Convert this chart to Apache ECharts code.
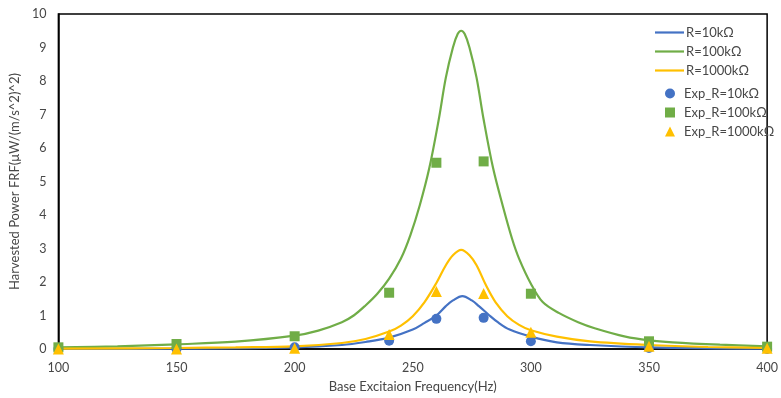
<!DOCTYPE html>
<html>
<head>
<meta charset="utf-8">
<script src="https://cdn.jsdelivr.net/npm/echarts@6/dist/echarts.min.js"></script>
<style>
  html, body { margin: 0; padding: 0; background: #fff; }
  #chart { width: 781px; height: 398px; }
</style>
</head>
<body>
<div id="chart"></div>
<script>
// Theoretical harvested-power FRF curves (frequency in Hz, power in µW/(m/s^2)^2)
const freq10k = [100, 150, 200, 220, 230, 240, 250, 255, 260, 264, 267, 271, 275, 278, 282, 286, 291, 300, 311, 325, 350, 400];
const power10k = [0.0, 0.01, 0.05, 0.12, 0.21, 0.34, 0.58, 0.78, 1.0, 1.28, 1.45, 1.58, 1.45, 1.28, 1.03, 0.8, 0.58, 0.37, 0.2, 0.12, 0.05, 0.01];

const freq100k = [100, 125, 150, 175, 200, 210, 220, 225, 230, 235, 240, 245, 249, 253, 257, 261, 264, 267, 269, 270.5, 272, 274, 277, 280, 284, 288, 292, 295, 300, 305, 312, 320, 327, 340, 350, 360, 380, 400];
const power100k = [0.05, 0.08, 0.14, 0.22, 0.4, 0.55, 0.8, 1.0, 1.3, 1.65, 2.1, 2.7, 3.4, 4.3, 5.4, 6.85, 8.1, 9.0, 9.4, 9.5, 9.4, 9.0, 8.1, 6.85, 5.4, 4.3, 3.3, 2.7, 1.95, 1.4, 1.07, 0.8, 0.62, 0.37, 0.26, 0.2, 0.13, 0.08];

const freq1000k = [100, 150, 175, 200, 220, 230, 240, 245, 250, 255, 260, 264, 267, 270.5, 274, 277, 281, 285, 290, 295, 300, 311, 325, 350, 375, 400];
const power1000k = [0.01, 0.03, 0.05, 0.08, 0.18, 0.3, 0.52, 0.7, 0.98, 1.4, 1.97, 2.5, 2.8, 2.96, 2.8, 2.5, 1.9, 1.4, 0.98, 0.72, 0.56, 0.37, 0.23, 0.12, 0.06, 0.03];

// Measured points
const expFreq = [100, 150, 200, 240, 260, 280, 300, 350, 400];
const exp10k = [0.0, 0.0, 0.05, 0.25, 0.9, 0.93, 0.23, 0.03, 0.0];
const exp100k = [0.05, 0.15, 0.38, 1.68, 5.56, 5.6, 1.65, 0.23, 0.07];
const exp1000k = [0.0, 0.0, 0.02, 0.43, 1.72, 1.66, 0.5, 0.08, 0.02];

const xTicks = [100, 150, 200, 250, 300, 350, 400];
const yTicks = [0, 1, 2, 3, 4, 5, 6, 7, 8, 9, 10];

const BLUE = '#4472C4', GREEN = '#70AD47', GOLD = '#FFC000';
const FONT = 'Lato, "Open Sans", sans-serif';
const TEXT = '#474747';

const zip = (xs, ys) => xs.map((x, i) => [x, ys[i]]);

const lineSeries = (name, xs, ys, color) => ({
  name, type: 'line', smooth: 0.35, showSymbol: false, symbol: 'none',
  data: zip(xs, ys), lineStyle: { color, width: 2.2 }, itemStyle: { color }, z: 2
});
const dotSeries = (name, ys, color, symbol, size) => ({
  name, type: 'scatter', symbol, symbolSize: size,
  data: zip(expFreq, ys), itemStyle: { color, opacity: 1 }, z: 3
});

const chart = echarts.init(document.getElementById('chart'), null, { renderer: 'canvas' });
chart.setOption({
  animation: false,
  backgroundColor: '#fff',
  textStyle: { fontFamily: FONT },
  grid: { left: 56, right: 9, top: 14, bottom: 49, show: true, borderColor: '#000', borderWidth: 1.5, backgroundColor: 'transparent' },
  legend: [
    {
      // model curves: plain line swatches
      orient: 'vertical', left: 650, top: 21,
      icon: 'rect', itemWidth: 29, itemHeight: 2.2, itemGap: 6,
      textStyle: { color: TEXT, fontSize: 13, fontFamily: FONT, padding: [0, 0, 0, -3] },
      data: ['R=10kΩ', 'R=100kΩ', 'R=1000kΩ']
    },
    {
      // measured points: marker swatches
      orient: 'vertical', left: 660, top: 82,
      itemWidth: 10, itemHeight: 10, itemGap: 6,
      textStyle: { color: TEXT, fontSize: 13, fontFamily: FONT, padding: [0, 0, 0, 4] },
      data: ['Exp_R=10kΩ', 'Exp_R=100kΩ', 'Exp_R=1000kΩ']
    }
  ],
  xAxis: {
    type: 'value', min: xTicks[0], max: xTicks[xTicks.length - 1], interval: 50,
    name: 'Base Excitaion Frequency(Hz)', nameLocation: 'middle', nameGap: 31,
    nameTextStyle: { color: TEXT, fontSize: 13, fontFamily: FONT },
    axisLine: { lineStyle: { color: '#000', width: 1.5 } },
    axisTick: { show: false },
    splitLine: { show: false },
    axisLabel: { color: TEXT, fontSize: 12.5, margin: 12, fontFamily: FONT }
  },
  yAxis: {
    type: 'value', min: yTicks[0], max: yTicks[yTicks.length - 1], interval: 1,
    name: 'Harvested Power FRF(μW/(m/s^2)^2)', nameLocation: 'middle', nameGap: 33,
    nameTextStyle: { color: TEXT, fontSize: 13, fontFamily: FONT },
    axisLine: { show: true, lineStyle: { color: '#000', width: 1.5 } },
    axisTick: { show: false },
    splitLine: { show: false },
    axisLabel: { color: TEXT, fontSize: 12.5, margin: 12, fontFamily: FONT }
  },
  series: [
    lineSeries('R=10kΩ', freq10k, power10k, BLUE),
    lineSeries('R=100kΩ', freq100k, power100k, GREEN),
    lineSeries('R=1000kΩ', freq1000k, power1000k, GOLD),
    dotSeries('Exp_R=10kΩ', exp10k, BLUE, 'circle', 10),
    dotSeries('Exp_R=100kΩ', exp100k, GREEN, 'rect', 10),
    dotSeries('Exp_R=1000kΩ', exp1000k, GOLD, 'triangle', 11)
  ]
});
</script>
</body>
</html>
